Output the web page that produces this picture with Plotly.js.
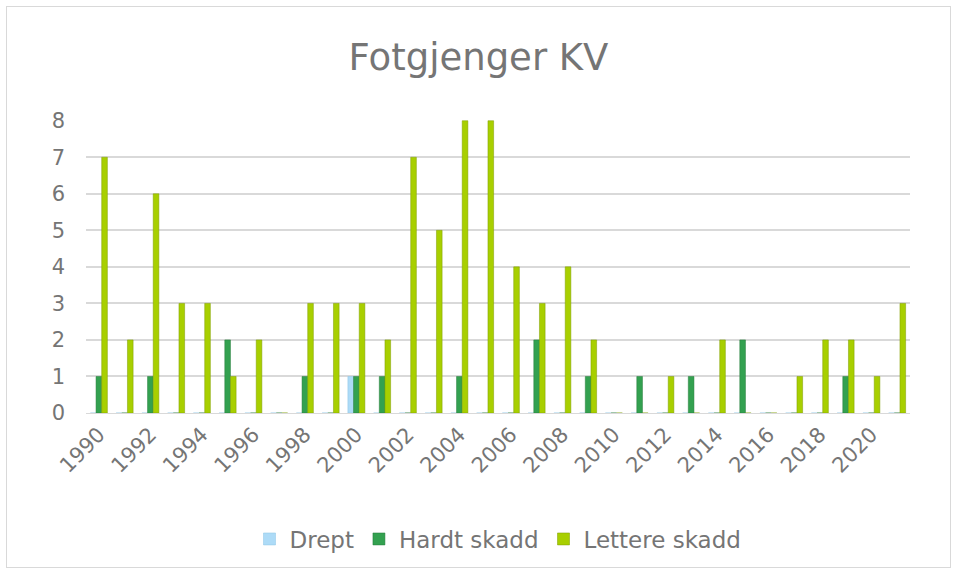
<!DOCTYPE html>
<html>
<head>
<meta charset="utf-8">
<script src="https://cdn.plot.ly/plotly-3.0.1.min.js"></script>
<style>
html,body{margin:0;padding:0;background:#fff;}
#chart{position:absolute;left:0;top:0;width:957px;height:572px;}
#frame{position:absolute;left:6px;top:6px;width:943px;height:560px;border:1px solid #d9d9d9;pointer-events:none;}
</style>
</head>
<body>
<div id="chart"></div>
<div id="frame"></div>
<script>
const years = ["1990","1991","1992","1993","1994","1995","1996","1997","1998","1999","2000","2001","2002","2003","2004","2005","2006","2007","2008","2009","2010","2011","2012","2013","2014","2015","2016","2017","2018","2019","2020","2021"];
const tickLabels = ["1990","1992","1994","1996","1998","2000","2002","2004","2006","2008","2010","2012","2014","2016","2018","2020"];
const drept = [0,0,0,0,0,0,0,0,0,0,1,0,0,0,0,0,0,0,0,0,0,0,0,0,0,0,0,0,0,0,0,0];
const hardtSkadd = [1,0,1,0,0,2,0,0,1,0,1,1,0,0,1,0,0,2,0,1,0,1,0,1,0,2,0,0,0,1,0,0];
const lettereSkadd = [7,2,6,3,3,1,2,0,3,3,3,2,7,5,8,8,4,3,4,2,0,0,1,0,2,0,0,1,2,2,1,3];

const font = {family: "Verdana, 'DejaVu Sans', sans-serif", color: "#757575"};
const traces = [
  {type:"bar", name:"Drept", x:years, y:drept, marker:{color:"#addbf7", line:{color:"#8cc4e6", width:0.5}}},
  {type:"bar", name:"Hardt skadd", x:years, y:hardtSkadd, marker:{color:"#33a150", line:{color:"#257a3b", width:0.5}}},
  {type:"bar", name:"Lettere skadd", x:years, y:lettereSkadd, marker:{color:"#a8cf00", line:{color:"#7e9c00", width:0.5}}}
];
const layout = {
  width:957, height:572,
  margin:{l:86, r:47, t:120, b:159},
  paper_bgcolor:"rgba(0,0,0,0)", plot_bgcolor:"#fff",
  title:{text:"Fotgjenger KV", x:0.5, xanchor:"center", y:0.9, yanchor:"middle", font:{...font, size:37}},
  barmode:"group", bargap:0.34, bargroupgap:0,
  showlegend:true,
  legend:{orientation:"h", x:0.5, xanchor:"center", y:-0.43, yanchor:"middle", font:{...font, size:23}, itemwidth:20, traceorder:"normal"},
  xaxis:{type:"category", tickvals:tickLabels, ticktext:tickLabels, tickangle:-45, tickfont:{...font, size:21}, showgrid:false, showline:true, linecolor:"#d9d9d9", linewidth:1, ticks:""},
  yaxis:{range:[0,8.02], dtick:1, tickfont:{...font, size:21}, showgrid:true, gridcolor:"#d9d9d9", gridwidth:2, zeroline:false, showline:false, ticks:"", ticklabelstandoff:20}
};
Plotly.newPlot("chart", traces, layout, {displayModeBar:false, staticPlot:true});
</script>
</body>
</html>
